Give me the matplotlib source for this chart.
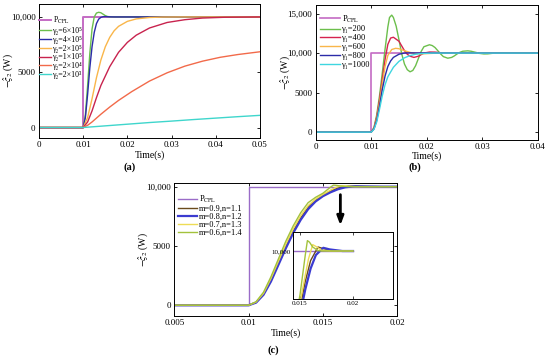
import matplotlib
matplotlib.use("Agg")
import matplotlib.pyplot as plt

plt.rcParams["font.family"] = ["Liberation Serif", "DejaVu Serif"]
plt.rcParams["mathtext.fontset"] = "stix"
plt.rcParams["font.size"] = 6.5

# ---------- panel (a) data ----------
a_step_t = [0, 0.01, 0.01, 0.05]
a_step_v = [0, 0, 10000, 10000]
a_labels = ["γ₂=6×10⁵", "γ₂=4×10⁵", "γ₂=2×10⁵", "γ₂=1×10⁵", "γ₂=2×10⁴", "γ₂=2×10³"]
a_colors = ["#6cbf4c", "#2b2ba8", "#f9b64a", "#c8234e", "#f26a4a", "#3fd6cc"]
a_t = [
    [0, 0.01, 0.0105, 0.011, 0.0115, 0.012, 0.0125, 0.013, 0.0135, 0.014, 0.0145, 0.015, 0.0155, 0.016, 0.017, 0.05],
    [0, 0.01, 0.0105, 0.011, 0.0115, 0.012, 0.0125, 0.013, 0.0135, 0.014, 0.0145, 0.015, 0.016, 0.017, 0.05],
    [0, 0.01, 0.011, 0.012, 0.013, 0.014, 0.015, 0.016, 0.017, 0.018, 0.02, 0.022, 0.025, 0.028, 0.032, 0.05],
    [0, 0.01, 0.011, 0.012, 0.013, 0.014, 0.016, 0.018, 0.02, 0.022, 0.025, 0.029, 0.033, 0.037, 0.042, 0.05],
    [0, 0.01, 0.011, 0.012, 0.014, 0.016, 0.018, 0.021, 0.025, 0.029, 0.033, 0.037, 0.041, 0.045, 0.05],
    [0, 0.01, 0.015, 0.02, 0.025, 0.03, 0.035, 0.04, 0.045, 0.05],
]
a_v = [
    [0, 0, 1200, 3800, 6700, 8900, 10000, 10350, 10420, 10380, 10250, 10120, 10040, 10010, 10000, 10000],
    [0, 0, 900, 3000, 5400, 7300, 8600, 9400, 9800, 9960, 10020, 10030, 10010, 10000, 10000],
    [0, 0, 900, 2600, 4500, 6100, 7300, 8150, 8750, 9150, 9600, 9820, 9950, 9990, 10000, 10000],
    [0, 0, 500, 1500, 2700, 3800, 5500, 6800, 7700, 8350, 9000, 9500, 9750, 9900, 9970, 10000],
    [0, 0, 200, 500, 1200, 1850, 2450, 3250, 4200, 4950, 5550, 6000, 6350, 6600, 6850],
    [0, 0, 150, 300, 450, 580, 720, 850, 980, 1100],
]

# ---------- panel (b) data ----------
b_step_t = [0, 0.01, 0.01, 0.04]
b_step_v = [0, 0, 10000, 10000]
b_labels = ["γ₁=200", "γ₁=400", "γ₁=600", "γ₁=800", "γ₁=1000"]
b_colors = ["#6cbf4c", "#d6234e", "#f9b64a", "#2b2ba8", "#3fd6e0"]
b_t = [
    [0, 0.01, 0.0105, 0.011, 0.0115, 0.012, 0.0125, 0.013, 0.0133, 0.0137, 0.014, 0.0145, 0.015, 0.0155,
     0.016, 0.0165, 0.017, 0.0175, 0.018, 0.0185, 0.019, 0.0195, 0.0205, 0.021, 0.0215, 0.022, 0.0225,
     0.023, 0.0238, 0.0245, 0.025, 0.0255, 0.026, 0.0265, 0.0274, 0.028, 0.029, 0.0295, 0.0303, 0.031,
     0.032, 0.033, 0.034, 0.035, 0.037, 0.04],
    [0, 0.01, 0.0105, 0.011, 0.0115, 0.012, 0.0125, 0.013, 0.0135, 0.014, 0.015, 0.0155, 0.016, 0.0165,
     0.017, 0.0177, 0.0185, 0.019, 0.0195, 0.0205, 0.0215, 0.0225, 0.024, 0.04],
    [0, 0.01, 0.0105, 0.011, 0.0115, 0.012, 0.0125, 0.013, 0.0137, 0.0144, 0.015, 0.016, 0.017, 0.018,
     0.019, 0.02, 0.022, 0.04],
    [0, 0.01, 0.0105, 0.011, 0.0115, 0.012, 0.0125, 0.013, 0.0135, 0.014, 0.015, 0.016, 0.017, 0.018, 0.04],
    [0, 0.01, 0.0105, 0.011, 0.0115, 0.012, 0.0125, 0.013, 0.014, 0.015, 0.016, 0.017, 0.018, 0.019, 0.021, 0.04],
]
b_v = [
    [0, 0, 600, 2200, 4600, 7500, 10500, 13300, 14500, 14800, 14500, 13400, 11700, 9900,
     8600, 7900, 7630, 7800, 8400, 9300, 10200, 10800, 11050, 10950, 10700, 10300, 9900,
     9550, 9350, 9450, 9650, 9900, 10100, 10230, 10280, 10230, 10060, 9960, 9890, 9900,
     9980, 10040, 10040, 10010, 9990, 10000],
    [0, 0, 500, 1900, 4100, 6700, 9200, 11100, 11900, 12000, 11500, 10900, 10300, 9850,
     9600, 9450, 9600, 9800, 10000, 10130, 10120, 10040, 9990, 10000],
    [0, 0, 450, 1700, 3700, 6100, 8300, 9700, 10450, 10600, 10550, 10300, 10080, 9950,
     9900, 9930, 10000, 10000],
    [0, 0, 400, 1500, 3300, 5400, 7100, 8300, 9000, 9450, 9850, 10000, 10030, 10010, 10000],
    [0, 0, 350, 1300, 2900, 4600, 6000, 7000, 8200, 8950, 9400, 9680, 9850, 9940, 10000, 10000],
]

# ---------- panel (c) data ----------
c_step_t = [0.005, 0.01, 0.01, 0.02]
c_step_v = [0, 0, 10000, 10000]
c_labels = ["m=0.9,n=1.1", "m=0.8,n=1.2", "m=0.7,n=1.3", "m=0.6,n=1.4"]
c_colors = ["#6a4a1c", "#3b3bd0", "#eedc55", "#a3c23c"]
c_widths = [1.0, 1.6, 1.0, 1.0]
c_t = [
    [0.005, 0.01, 0.0105, 0.011, 0.0115, 0.012, 0.0125, 0.013, 0.0135, 0.014, 0.0145, 0.015, 0.0155,
     0.016, 0.0167, 0.0172, 0.018, 0.02],
    [0.005, 0.01, 0.0105, 0.011, 0.0115, 0.012, 0.0125, 0.013, 0.0135, 0.014, 0.0145, 0.015, 0.0155,
     0.016, 0.0165, 0.0172, 0.0178, 0.019, 0.02],
    [0.005, 0.01, 0.0105, 0.011, 0.0115, 0.012, 0.0125, 0.013, 0.0135, 0.014, 0.0145, 0.015, 0.0155,
     0.0158, 0.0162, 0.0166, 0.017, 0.018, 0.02],
    [0.005, 0.01, 0.0105, 0.011, 0.0115, 0.012, 0.0125, 0.013, 0.0135, 0.014, 0.0145, 0.015, 0.0153,
     0.0155, 0.0157, 0.0159, 0.0162, 0.0167, 0.017, 0.02],
]
c_v = [
    [0, 0, 250, 950, 2150, 3550, 4950, 6250, 7350, 8250, 8850, 9280, 9620, 9880, 10050, 10030, 10005, 10000],
    [0, 0, 220, 880, 2000, 3400, 4800, 6100, 7200, 8100, 8750, 9200, 9520, 9780, 9950, 10040, 10020, 10000, 10000],
    [0, 0, 270, 1000, 2250, 3700, 5150, 6450, 7550, 8400, 8950, 9350, 9700, 9900, 10080, 10050, 10010, 10000, 10000],
    [0, 0, 300, 1100, 2400, 3900, 5400, 6700, 7800, 8650, 9100, 9450, 9750, 9950, 10130, 10110, 10050, 10005, 10000, 10000],
]

cpl_color = "#c46bc4"
cpl_color_c = "#9a6cc8"
ylab = r"$-\hat{\varsigma}_2$ (W)"


def style(ax):
    ax.tick_params(direction="in", length=2.5, width=0.6, top=True, right=True, pad=2.5, labelsize=6.5)
    for s in ax.spines.values():
        s.set_linewidth(0.7)


legend_kw = dict(loc="upper left", frameon=False, handletextpad=0.3,
                 borderaxespad=0.0, borderpad=0.2)

fig = plt.figure(figsize=(5.5, 3.57), dpi=100)

# (a)
ax = fig.add_axes([0.0709, 0.6134, 0.4018, 0.3754])
ax.plot(a_step_t, a_step_v, color=cpl_color, lw=1.4, label=r"P$_{\rm CPL}$")
for t, v, c, lab in zip(a_t, a_v, a_colors, a_labels):
    ax.plot(t, v, color=c, lw=1.0, label=lab)
ax.set_xlim(0, 0.05)
ax.set_ylim(-950, 11170)
ax.set_xticks([0, 0.01, 0.02, 0.03, 0.04, 0.05])
ax.set_xticklabels(["0", "0.01", "0.02", "0.03", "0.04", "0.05"])
ax.set_yticks([0, 5000, 10000])
ax.set_yticklabels(["0", "5000", "10,000"])
ax.set_xlabel("Time(s)", fontsize=7, labelpad=1)
ax.set_ylabel(ylab, fontsize=7)
ax.yaxis.set_label_coords(-0.107, 0.5)
style(ax)
ax.legend(bbox_to_anchor=(-0.005, 0.93), fontsize=5.7, handlelength=1.4, labelspacing=0.1, **legend_kw)
fig.text(0.236, 0.532, "(a)", ha="center", va="center", fontsize=7.5, fontweight="bold")

# (b)
ax = fig.add_axes([0.5740, 0.6078, 0.4036, 0.3782])
ax.plot(b_step_t, b_step_v, color=cpl_color, lw=1.2, label=r"P$_{\rm CPL}$")
for t, v, c, lab in zip(b_t, b_v, b_colors, b_labels):
    ax.plot(t, v, color=c, lw=1.0, label=lab)
ax.set_xlim(0, 0.04)
ax.set_ylim(-1000, 16080)
ax.set_xticks([0, 0.01, 0.02, 0.03, 0.04])
ax.set_xticklabels(["0", "0.01", "0.02", "0.03", "0.04"])
ax.set_yticks([0, 5000, 10000, 15000])
ax.set_yticklabels(["0", "5000", "10,000", "15,000"])
ax.set_xlabel("Time(s)", fontsize=7, labelpad=0)
ax.set_ylabel(ylab, fontsize=7)
ax.yaxis.set_label_coords(-0.105, 0.5)
style(ax)
ax.legend(bbox_to_anchor=(0.01, 0.95), fontsize=6, handlelength=2.4, labelspacing=0.1, **legend_kw)
fig.text(0.755, 0.532, "(b)", ha="center", va="center", fontsize=7.5, fontweight="bold")

# (c)
ax = fig.add_axes([0.3169, 0.1149, 0.4055, 0.3725])
ax.plot(c_step_t, c_step_v, color=cpl_color_c, lw=1.0, label=r"P$_{\rm CPL}$")
for t, v, c, w, lab in zip(c_t, c_v, c_colors, c_widths, c_labels):
    ax.plot(t, v, color=c, lw=w, label=lab)
ax.set_xlim(0.005, 0.02)
ax.set_ylim(-905, 10310)
ax.set_xticks([0.005, 0.01, 0.015, 0.02])
ax.set_xticklabels(["0.005", "0.01", "0.015", "0.02"])
ax.set_yticks([0, 5000, 10000])
ax.set_yticklabels(["0", "5000", "10,000"])
ax.set_xlabel("Time(s)", fontsize=7, labelpad=1)
ax.set_ylabel(ylab, fontsize=7)
ax.yaxis.set_label_coords(-0.108, 0.5)
style(ax)
ax.legend(bbox_to_anchor=(0.01, 0.93), fontsize=6, handlelength=2.2, labelspacing=0.0, **legend_kw)
ax.annotate("", xy=(0.01617, 6500), xytext=(0.01617, 9560),
            arrowprops=dict(arrowstyle="-|>,head_width=0.3,head_length=0.8", color="black", lw=2))
fig.text(0.497, 0.02, "(c)", ha="center", va="center", fontsize=7.5, fontweight="bold")

# inset of (c)
ins = fig.add_axes([0.5327, 0.1625, 0.1818, 0.1877])
ins.plot(c_step_t, c_step_v, color=cpl_color_c, lw=1.0)
for t, v, c, w in zip(c_t, c_v, c_colors, c_widths):
    ins.plot(t, v, color=c, lw=w)
ins.set_xlim(0.01434, 0.02377)
ins.set_ylim(9400, 10238)
ins.set_xticks([0.015, 0.02])
ins.set_xticklabels(["0.015", "0.02"])
ins.set_yticks([10000])
ins.set_yticklabels(["10,000"])
ins.tick_params(direction="in", length=2, width=0.5, labelsize=5, pad=1.5, top=True, right=True)
for s in ins.spines.values():
    s.set_linewidth(0.7)

fig.savefig("out.png", dpi=100)
